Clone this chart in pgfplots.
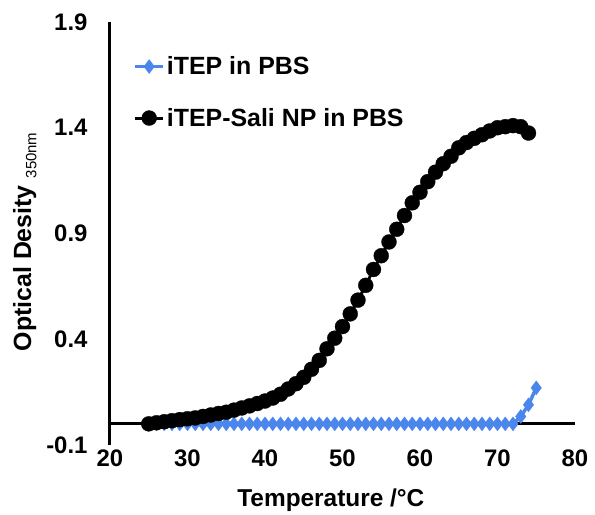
\documentclass[border=0pt]{standalone}
\usepackage{pgfplots}
\pgfplotsset{compat=1.18}
\usepackage{fontspec}
\setmainfont{Liberation Sans}
\usetikzlibrary{calc}

\definecolor{itepblue}{RGB}{74,134,236}

% blue: iTEP in PBS, black: iTEP-Sali NP in PBS
\pgfplotstableread{
T    od
25   0.0
26   0.0
27   0.0
28   0.0
29   0.0
30   0.0
31   0.0
32   0.0
33   0.0
34   0.0
35   0.0
36   0.0
37   0.0
38   0.0
39   0.0
40   0.0
41   0.0
42   0.0
43   0.0
44   0.0
45   0.0
46   0.0
47   0.0
48   0.0
49   0.0
50   0.0
51   0.0
52   0.0
53   0.0
54   0.0
55   0.0
56   0.0
57   0.0
58   0.0
59   0.0
60   0.0
61   0.0
62   0.0
63   0.0
64   0.0
65   0.0
66   0.0
67   0.0
68   0.0
69   0.0
70   0.0
71   0.0
72   0.0
73   0.035
74   0.09
75   0.17
}\itep

\pgfplotstableread{
T    od
25   0.000
26   0.005
27   0.010
28   0.015
29   0.020
30   0.024
31   0.028
32   0.035
33   0.042
34   0.049
35   0.055
36   0.065
37   0.075
38   0.085
39   0.096
40   0.108
41   0.122
42   0.140
43   0.165
44   0.190
45   0.220
46   0.258
47   0.300
48   0.355
49   0.405
50   0.460
51   0.520
52   0.585
53   0.655
54   0.730
55   0.795
56   0.860
57   0.920
58   0.985
59   1.045
60   1.095
61   1.145
62   1.190
63   1.230
64   1.265
65   1.305
66   1.330
67   1.350
68   1.367
69   1.385
70   1.400
71   1.405
72   1.410
73   1.405
74   1.375
}\itepsali

\begin{document}
\begin{tikzpicture}
  \begin{axis}[
      scale only axis, width=465bp, height=423bp,
      xmin=20, xmax=80, ymin=-0.1, ymax=1.9,
      xtick={20,30,...,80}, ytick={-0.1,0.4,0.9,1.4,1.9},
      yticklabels={-0.1,0.4,0.9,1.4,1.9},
      axis y line=left, axis x line=bottom,
      x axis line style={draw=none},
      y axis line style={-, line width=3bp},
      major tick length=0pt,
      enlargelimits=false, clip=false,
      /pgf/number format/assume math mode=true,
      ticklabel style={font=\fontsize{24}{28}\selectfont\bfseries},
      xticklabel style={yshift=-1bp},
      yticklabel style={xshift=-19bp},
      xlabel={Temperature /°C},
      ylabel={Optical Desity \raisebox{-0.4ex}{\fontsize{15}{17}\selectfont\mdseries 350nm}},
      xlabel style={font=\fontsize{24.5}{28}\selectfont\bfseries,
        at={(axis description cs:0.475,-0.13)}, anchor=center},
      ylabel style={font=\fontsize{25}{29}\selectfont\bfseries,
        at={(axis description cs:-0.183,0.48)}, anchor=center, rotate=0},
      legend style={draw=none, fill=none, at={(0.05,0.923)}, anchor=north west,
        font=\fontsize{25}{29}\selectfont\bfseries, row sep=28bp, inner sep=0pt},
      legend cell align=left,
      legend image code/.code={
        \draw[mark repeat=2, mark phase=2, #1] plot coordinates {(0bp,0bp) (14bp,0bp) (28bp,0bp)};
      },
    ]
    \addplot[forget plot, black, line width=3bp, no marks] coordinates {(20,0) (80,0)};
    \addplot[itepblue, line width=3.5bp, mark=diamond*, mark size=7bp,
      mark options={solid, fill=itepblue, draw=itepblue, line width=0.3bp}]
      table[x=T, y=od] {\itep};
    \addlegendentry{iTEP in PBS}
    \addplot[black, line width=3bp, mark=*, mark size=7.5bp,
      mark options={solid, fill=black, line width=0.3bp}]
      table[x=T, y=od] {\itepsali};
    \addlegendentry{iTEP-Sali NP in PBS}
  \end{axis}
  \path ($(current axis.south west)+(-110bp,-70bp)$) rectangle ++(595bp,515bp);
\end{tikzpicture}
\end{document}
